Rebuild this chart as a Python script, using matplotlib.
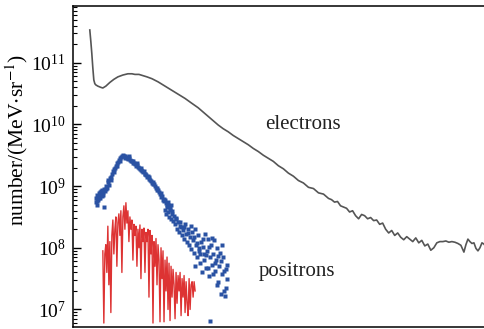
import numpy as np
import matplotlib
matplotlib.use("Agg")
import matplotlib.pyplot as plt

plt.rcParams['font.family'] = ['Liberation Serif', 'DejaVu Serif']
plt.rcParams['mathtext.fontset'] = 'stix'

# Energy channel (arbitrary units) and log10(number/(MeV·sr^-1))
electron_x = [17, 18, 19, 20, 21, 22, 23, 25, 28, 30, 33, 37, 41, 45, 50, 55, 59, 62, 66, 70,
              74, 79, 85, 92, 98, 105, 112, 118, 125, 130, 135, 140, 145, 150, 155, 160, 165,
              170, 175, 180, 185, 190, 195, 200, 205, 210, 215, 220, 225, 230, 235, 240, 245,
              250, 255, 258, 261, 264, 267, 270, 273, 276, 279, 282, 285, 288, 291, 294, 297,
              300, 303, 306, 309, 312, 315, 318, 321, 324, 327, 330, 333, 336, 339, 342, 345,
              348, 351, 354, 357, 360, 363, 366, 369, 372, 375, 378, 381, 384, 387, 390, 392,
              394, 396, 398, 400, 402, 404, 406, 408, 410, 412]
electron_log = [11.53, 11.35, 11.15, 10.92, 10.72, 10.66, 10.64, 10.62, 10.60, 10.59, 10.62,
                10.68, 10.73, 10.77, 10.80, 10.82, 10.82, 10.81, 10.81, 10.79, 10.77, 10.74,
                10.69, 10.62, 10.56, 10.49, 10.42, 10.35, 10.27, 10.20, 10.13, 10.06, 9.99,
                9.93, 9.88, 9.82, 9.77, 9.72, 9.67, 9.61, 9.56, 9.50, 9.45, 9.40, 9.33, 9.28,
                9.21, 9.16, 9.09, 9.05, 8.98, 8.96, 8.89, 8.87, 8.80, 8.78, 8.74, 8.75, 8.68,
                8.66, 8.64, 8.58, 8.60, 8.52, 8.47, 8.54, 8.52, 8.47, 8.49, 8.44, 8.45, 8.38,
                8.40, 8.30, 8.24, 8.28, 8.20, 8.24, 8.17, 8.13, 8.18, 8.14, 8.10, 8.16, 8.08,
                8.12, 8.03, 8.06, 7.96, 8.00, 8.08, 8.10, 8.10, 8.11, 8.09, 8.10, 8.09, 8.07,
                8.04, 7.93, 8.05, 8.14, 8.10, 8.07, 8.08, 7.99, 7.95, 8.00, 8.08, 8.06, 8.01]

positron_dot_x = [23, 23, 24, 24, 25, 25, 26, 26, 27, 27, 28, 29, 29, 30, 31, 31, 32, 33, 34,
                  35, 36, 37, 38, 39, 40, 41, 42, 43, 44, 45, 46, 47, 48, 49, 50, 51, 52, 53,
                  54, 55, 56, 57, 58, 59, 60, 61, 62, 63, 64, 65, 66, 67, 68, 69, 70, 71, 72,
                  73, 74, 75, 76, 77, 78, 79, 80, 81, 82, 83, 84, 85, 86, 87, 88, 89, 90, 91,
                  92, 93, 94, 95, 96, 97, 98,
                  92, 93, 94, 95, 96, 97, 98, 99, 100, 101, 102, 103, 104, 105, 106, 107, 108,
                  109, 110, 111, 112, 113, 114, 115, 116, 117, 118, 119, 120, 121, 122, 123,
                  124, 125, 126, 127, 128, 129, 130, 131, 132, 133, 134, 135, 136, 137, 137,
                  138, 139, 140, 141, 142, 143, 144, 145, 146, 147, 148, 149, 150, 151, 152,
                  153, 154,
                  24, 26, 28, 30, 33, 35, 38, 41, 44, 47, 52, 56, 60, 64, 68, 72, 76, 80, 84,
                  88, 91, 95, 99, 103, 107, 111, 115, 118, 121, 124, 127, 130, 133, 136, 139,
                  142, 145, 148, 151, 154, 122, 126, 131, 135, 140, 144, 149, 153]
positron_dot_log = [8.80, 8.74, 8.86, 8.70, 8.82, 8.77, 8.84, 8.88, 8.80, 8.90, 8.86, 8.93,
                    8.84, 8.90, 8.66, 8.95, 8.92, 9.00, 8.97, 9.06, 9.02, 9.13, 9.10, 9.20,
                    9.25, 9.22, 9.30, 9.33, 9.37, 9.39, 9.42, 9.45, 9.47, 9.49, 9.50, 9.49,
                    9.48, 9.47, 9.46, 9.44, 9.45, 9.42, 9.40, 9.40, 9.37, 9.38, 9.35, 9.33,
                    9.34, 9.31, 9.30, 9.28, 9.26, 9.25, 9.23, 9.24, 9.20, 9.18, 9.15, 9.16,
                    9.12, 9.10, 9.08, 9.05, 9.03, 9.04, 9.00, 8.97, 8.93, 8.94, 8.90, 8.87,
                    8.82, 8.84, 8.78, 8.75, 8.78, 8.72, 8.70, 8.74, 8.68, 8.65, 8.70,
                    8.62, 8.55, 8.66, 8.58, 8.50, 8.61, 8.47, 8.55, 8.44, 8.52, 8.38, 8.46,
                    8.30, 8.41, 8.25, 8.36, 8.33, 8.20, 8.28, 8.15, 8.38, 8.22, 8.10, 8.30,
                    8.05, 8.18, 7.98, 8.25, 8.12, 7.92, 8.30, 8.05, 7.85, 8.20, 7.95, 7.75,
                    8.10, 7.60, 8.02, 7.80, 8.22, 7.68, 7.95, 8.15, 7.55, 6.82, 7.85, 8.05,
                    7.72, 7.90, 8.12, 7.62, 7.80, 8.00, 7.45, 7.70, 7.92, 7.25, 7.58, 7.85,
                    7.30, 7.22, 7.65, 7.50,
                    8.76, 8.80, 8.92, 8.86, 8.96, 9.10, 9.15, 9.27, 9.33, 9.41, 9.45, 9.48,
                    9.41, 9.37, 9.30, 9.19, 9.15, 9.07, 8.97, 8.88, 8.79, 8.69, 8.60, 8.49,
                    8.42, 8.33, 8.24, 8.35, 8.18, 8.08, 7.90, 8.14, 7.88, 8.02, 8.16, 7.75,
                    7.86, 7.78, 7.62, 7.72, 7.70, 8.00, 7.90, 7.68, 7.58, 7.40, 8.04, 7.35]

positron_line_x = list(range(30, 123))
positron_line_log = [7.95, 6.78, 7.90, 8.05, 7.60, 8.35, 7.40, 8.10, 6.95, 8.20, 8.45, 7.90,
                     8.30, 8.50, 7.70, 8.40, 8.55, 8.20, 8.60, 7.60, 8.50, 8.68, 8.30, 8.73,
                     8.40, 8.60, 8.10, 8.50, 8.30, 8.45, 7.80, 8.38, 8.20, 8.35, 7.70, 8.30,
                     8.00, 8.37, 7.50, 8.30, 8.10, 8.32, 7.60, 8.25, 8.10, 8.30, 7.20, 8.28,
                     7.90, 8.20, 6.78, 8.10, 7.70, 8.15, 7.40, 8.05, 7.80, 6.80, 8.00, 7.50,
                     7.95, 6.80, 7.80, 7.30, 7.85, 7.00, 7.75, 6.82, 7.70, 7.20, 7.65, 7.40,
                     6.85, 7.60, 7.10, 7.55, 7.30, 7.60, 6.90, 7.50, 7.20, 7.55, 6.95, 7.45,
                     7.10, 6.90, 7.50, 7.00, 7.40, 7.45, 7.20, 7.45, 7.30]

ytick_vals = [1e7, 1e8, 1e9, 1e10, 1e11]

fig = plt.figure(figsize=(4.85, 3.29), dpi=100)
ax = fig.add_axes([0.150, 0.005, 0.852, 0.977])

ax.plot(electron_x, np.power(10.0, electron_log), color='#555555', lw=1.2)
ax.plot(positron_line_x, np.power(10.0, positron_line_log), color='#dd3333', lw=1.0)
ax.plot(positron_dot_x, np.power(10.0, positron_dot_log), linestyle='none', marker='s',
        ms=2.6, color='#2a52a3', mec='none')

ax.set_yscale('log')
ax.set_xlim(0, 412)
ax.set_ylim(10**6.71, 10**11.92)
ax.set_yticks(ytick_vals)
ax.set_xticks([])
ax.tick_params(axis='y', which='major', direction='in', length=6, width=1, labelsize=14,
               pad=5)
ax.tick_params(axis='y', which='minor', direction='in', length=3, width=0.8)
ax.spines['right'].set_visible(False)
for s in ['left', 'top', 'bottom']:
    ax.spines[s].set_linewidth(1.1)

ax.set_ylabel('number/(MeV$\\cdot$sr$^{-1}$)', fontsize=15.5)
ax.yaxis.set_label_coords(-0.104, 0.583)

ax.text(230, 10**10, 'electrons', fontsize=15, ha='center', va='center', color='#222222')
ax.text(224, 10**7.62, 'positrons', fontsize=15, ha='center', va='center', color='#222222')

fig.savefig('out.png', dpi=100)
